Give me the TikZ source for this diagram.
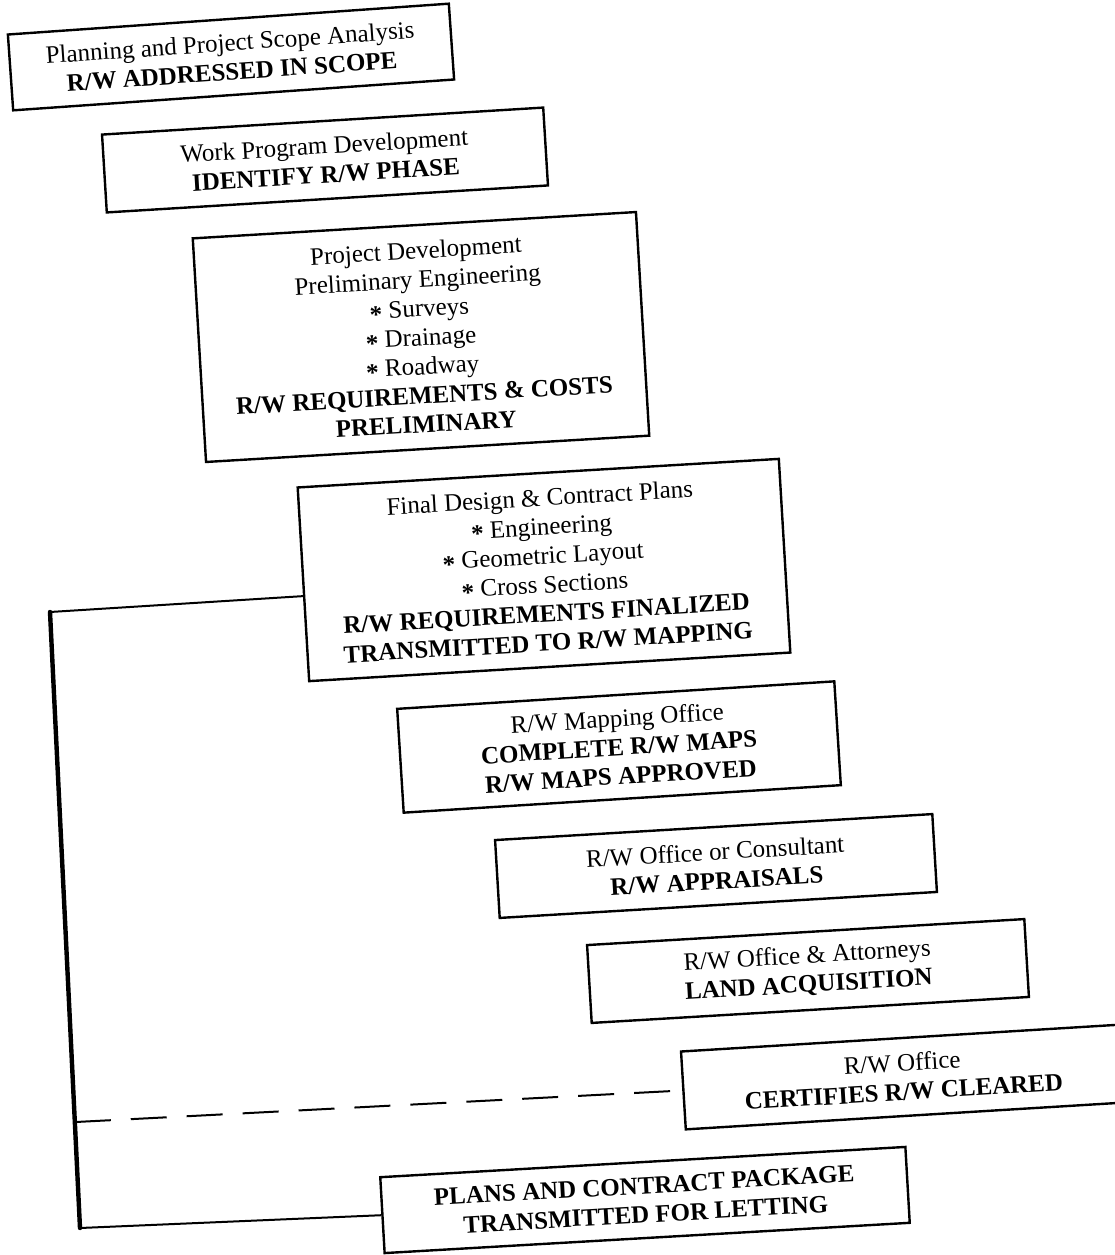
\documentclass[tikz,border=0pt]{standalone}
\usepackage{fontspec}
\setmainfont{Liberation Serif}
\usetikzlibrary{calc}
\newcommand{\bullast}{\raisebox{-0.3ex}{\textbf{*}}}
\begin{document}
\begin{tikzpicture}[x=0.5pt,y=-0.5pt,
  box/.style={draw, line width=1.2pt, rectangle, align=center, inner sep=0pt,
    font=\fontsize{12.5}{14.5}\selectfont},
  conn/.style={line width=1pt},
  trunk/.style={line width=2.2pt, line cap=round},
  dashconn/.style={line width=1pt, dash pattern=on 18pt off 10pt},
]
\useasboundingbox (0,0) rectangle (1115,1255);
\node[box, rotate=4, minimum width=221pt, minimum height=38pt] (b1) at (231,57)
  {Planning and Project Scope Analysis\\\textbf{R/W ADDRESSED IN SCOPE}};
\node[box, rotate=3.5, minimum width=221pt, minimum height=39pt] (b2) at (325,160)
  {Work Program Development\\\textbf{IDENTIFY R/W PHASE}};
\node[box, rotate=3.4, minimum width=222pt, minimum height=112pt] (b3) at (421,337)
  {Project Development\\Preliminary Engineering\\\bullast{} Surveys\\\bullast{} Drainage\\\bullast{} Roadway\\
   \textbf{R/W REQUIREMENTS \& COSTS}\\\textbf{PRELIMINARY}};
\node[box, rotate=3.4, minimum width=241pt, minimum height=97pt] (b4) at (544,570)
  {Final Design \& Contract Plans\\\bullast{} Engineering\\\bullast{} Geometric Layout\\\bullast{} Cross Sections\\
   \textbf{R/W REQUIREMENTS FINALIZED}\\\textbf{TRANSMITTED TO R/W MAPPING}};
\node[box, rotate=3.6, minimum width=219pt, minimum height=52pt] (b5) at (619,747)
  {R/W Mapping Office\\\textbf{COMPLETE R/W MAPS}\\\textbf{R/W MAPS APPROVED}};
\node[box, rotate=3.4, minimum width=219pt, minimum height=39pt] (b6) at (716,866)
  {R/W Office or Consultant\\\textbf{R/W APPRAISALS}};
\node[box, rotate=3.4, minimum width=219pt, minimum height=39pt] (b7) at (808,971)
  {R/W Office \& Attorneys\\\textbf{LAND ACQUISITION}};
\node[box, rotate=3.5, minimum width=220pt, minimum height=39pt] (b8) at (903,1077)
  {R/W Office\\\textbf{CERTIFIES R/W CLEARED}};
\node[box, rotate=3.3, minimum width=263pt, minimum height=38pt] (b9) at (645,1200)
  {\textbf{PLANS AND CONTRACT PACKAGE}\\\textbf{TRANSMITTED FOR LETTING}};
\coordinate (c1) at (50,612);
\coordinate (c2) at (80,1228);
\draw[conn] ($(b4.north west)!0.56!(b4.south west)$) -- (c1);
\draw[trunk] (c1) -- (c2);
\draw[conn] (c2) -- (b9.west);
\draw[dashconn] ($(c1)!0.828!(c2)$) -- (b8.west);
\end{tikzpicture}
\end{document}
